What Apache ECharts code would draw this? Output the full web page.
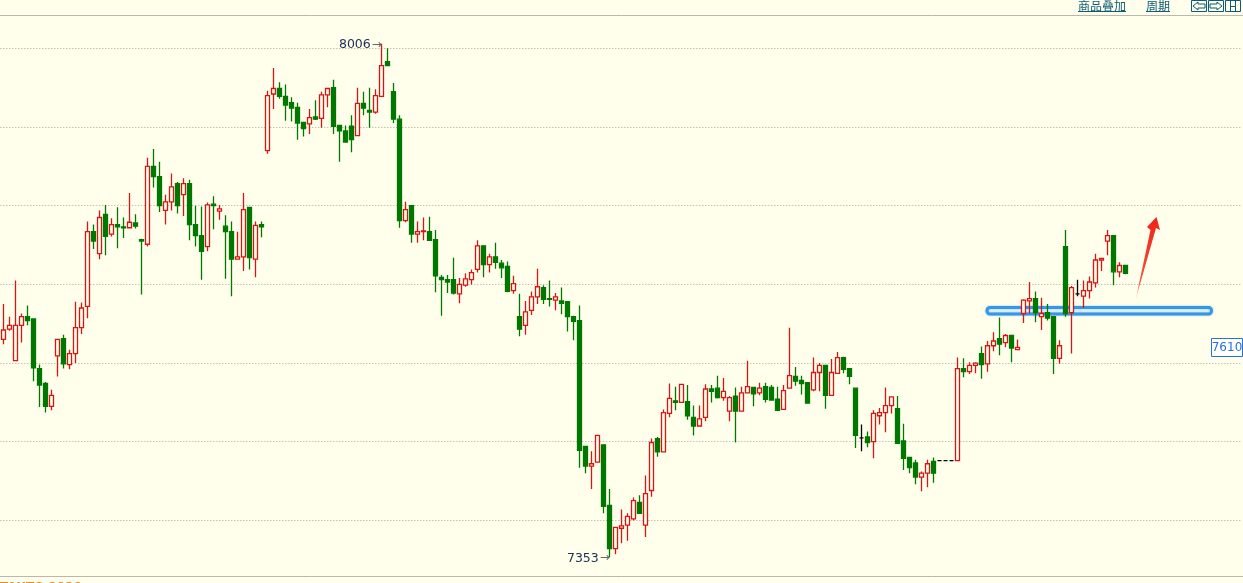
<!DOCTYPE html>
<html>
<head>
<meta charset="utf-8">
<style>
  html, body { margin: 0; padding: 0; background: #ffffeb; }
  #chart { width: 1243px; height: 583px; }
</style>
<script src="https://cdn.jsdelivr.net/npm/echarts@6/dist/echarts.min.js"></script>
</head>
<body>
<div id="chart"></div>
<script>
const opens = [
  7630,7643,7603,7648,7659,7656,7593,7574,7545,7609,
  7631,7598,7612,7645,7672,7767,7739,7789,7764,7776,
  7773,7772,7778,7757,7751,7850,7837,7794,7805,7828,
  7814,7828,7776,7762,7748,7802,7793,7774,7767,7732,
  7735,7798,7732,7776,7870,7942,7949,7939,7931,7925,
  7906,7904,7913,7911,7941,7950,7902,7895,7901,7889,
  7930,7921,7919,7939,7983,7945,7910,7781,7800,7764,
  7767,7767,7757,7709,7706,7706,7688,7699,7706,7719,
  7749,7725,7735,7727,7723,7692,7659,7648,7667,7684,
  7696,7682,7680,7679,7678,7659,7654,7494,7469,7474,
  7496,7419,7364,7390,7394,7402,7423,7394,7438,7504,
  7487,7536,7552,7550,7551,7531,7520,7531,7567,7568,
  7556,7539,7558,7539,7562,7569,7562,7570,7569,7554,
  7541,7568,7583,7578,7575,7566,7588,7597,7559,7587,
  7607,7593,7568,7505,7506,7500,7533,7537,7546,7542,
  7501,7480,7473,7455,7460,7475,7476,7476,7476,7476,
  7593,7589,7597,7612,7599,7622,7631,7626,7635,7617,
  7663,7679,7682,7659,7664,7659,7606,7748,7664,7688,
  7685,7692,7702,7731,7755,7762,7716,7724
]
const closes = [
  7642,7648,7648,7659,7654,7594,7572,7545,7559,7630,
  7599,7612,7645,7670,7767,7755,7785,7761,7776,7773,
  7772,7779,7774,7755,7850,7837,7800,7805,7824,7800,
  7828,7776,7762,7742,7801,7800,7796,7767,7732,7735,
  7795,7734,7775,7773,7940,7949,7939,7928,7924,7905,
  7898,7912,7910,7941,7949,7901,7895,7881,7884,7930,
  7924,7919,7940,7978,7978,7910,7781,7795,7764,7767,
  7768,7756,7711,7706,7703,7689,7700,7707,7715,7749,
  7725,7735,7728,7721,7691,7701,7643,7665,7684,7697,
  7681,7681,7684,7676,7659,7653,7489,7469,7472,7508,
  7418,7364,7391,7393,7405,7425,7409,7434,7499,7487,
  7537,7555,7550,7573,7533,7520,7529,7567,7564,7556,
  7564,7556,7539,7562,7570,7561,7568,7554,7553,7540,
  7565,7584,7577,7574,7549,7588,7597,7559,7588,7607,
  7592,7583,7508,7505,7499,7536,7537,7546,7557,7498,
  7479,7467,7455,7460,7472,7460,7476,7476,7476,7593,
  7589,7597,7600,7598,7622,7628,7624,7635,7619,7620,
  7680,7682,7664,7663,7657,7606,7622,7663,7696,7688,
  7692,7703,7731,7733,7762,7716,7724,7714
]
const lows = [
  7624,7641,7603,7626,7648,7577,7544,7537,7540,7583,
  7593,7592,7600,7637,7657,7745,7732,7737,7761,7746,
  7759,7772,7771,7687,7748,7823,7792,7776,7794,7790,
  7787,7756,7748,7706,7742,7770,7782,7707,7685,7732,
  7717,7719,7709,7760,7866,7923,7936,7908,7907,7884,
  7888,7891,7909,7899,7925,7891,7856,7881,7868,7889,
  7915,7899,7917,7939,7978,7905,7772,7779,7753,7753,
  7756,7756,7690,7660,7689,7687,7676,7697,7700,7715,
  7709,7715,7720,7708,7690,7688,7634,7636,7661,7675,
  7675,7672,7667,7662,7640,7629,7467,7460,7440,7474,
  7409,7353,7357,7371,7374,7400,7409,7379,7430,7481,
  7487,7531,7540,7550,7528,7508,7520,7526,7550,7555,
  7552,7526,7499,7539,7562,7545,7559,7550,7553,7540,
  7541,7568,7571,7560,7549,7564,7564,7542,7559,7587,
  7587,7573,7492,7488,7493,7479,7522,7512,7536,7498,
  7464,7460,7446,7437,7442,7448,7476,7476,7476,7476,
  7582,7586,7587,7580,7589,7615,7610,7620,7601,7617,
  7651,7663,7652,7642,7654,7586,7599,7659,7612,7685,
  7670,7682,7696,7717,7737,7699,7709,7713
]
const highs = [
  7675,7659,7705,7663,7673,7656,7598,7576,7566,7631,
  7636,7617,7678,7677,7780,7776,7794,7801,7784,7798,
  7785,7816,7789,7758,7861,7872,7856,7814,7841,7830,
  7835,7833,7800,7799,7804,7812,7801,7788,7780,7767,
  7816,7798,7780,7780,7946,7975,7957,7954,7938,7931,
  7906,7923,7934,7945,7950,7960,7903,7902,7915,7950,
  7945,7950,7948,8006,8000,7956,7915,7805,7800,7780,
  7785,7786,7769,7712,7712,7734,7708,7714,7719,7756,
  7749,7739,7753,7731,7729,7711,7688,7679,7691,7720,
  7699,7705,7689,7696,7679,7660,7673,7495,7488,7509,
  7496,7440,7391,7414,7409,7429,7432,7457,7504,7506,
  7541,7574,7570,7573,7572,7546,7546,7573,7572,7584,
  7581,7558,7569,7570,7603,7569,7575,7575,7572,7570,
  7572,7645,7595,7584,7575,7607,7600,7597,7605,7614,
  7608,7593,7568,7522,7513,7540,7543,7569,7557,7558,
  7523,7480,7477,7462,7477,7480,7476,7476,7476,7607,
  7606,7601,7601,7621,7628,7639,7658,7637,7635,7630,
  7681,7703,7691,7683,7675,7659,7629,7769,7698,7706,
  7705,7710,7739,7734,7769,7762,7728,7724
]
// days with open == close, drawn black
const flatDays = [143, 156, 157, 158, 179]
const highDay = 63
const lowDay = 101
const lastPrice = '7610'
const toolbarLabels = ['商品叠加', '周期']

const bg = '#ffffeb'
const upColor = '#d81515'
const downColor = '#007800'
const linkColor = '#0b5c7a'
const slots = 207 // room on the right of the last candle

const candles = opens.map((open, ii) => {
  const item = { value: [open, closes[ii], lows[ii], highs[ii]] }
  if (flatDays.includes(ii)) {
    item.itemStyle = { color: '#000', color0: '#000', borderColor: '#000', borderColor0: '#000', borderColorDoji: '#000' }
  }
  return item
})

function extremeLabel(day, value) {
  return {
    coord: [day, value],
    symbol: 'circle',
    symbolSize: 1,
    itemStyle: { color: 'transparent' },
    label: {
      show: true,
      position: 'left',
      distance: 0,
      offset: [1, 1],
      formatter: `{v|${value}}{a|→}`,
      rich: {
        v: { color: '#1c2f55', fontSize: 12.5, fontFamily: 'DejaVu Sans' },
        a: { color: '#666', fontSize: 12, fontFamily: 'DejaVu Sans', padding: [0, 0, 0, 1] },
      },
    },
  }
}

function iconBox(x, w, children) {
  return {
    type: 'group',
    children: [
      { type: 'rect', shape: { x, y: 0.5, width: w, height: 11 }, style: { fill: 'none', stroke: linkColor, lineWidth: 1 } },
      ...children,
    ],
  }
}

const chart = echarts.init(document.getElementById('chart'))
chart.setOption({
  animation: false,
  backgroundColor: bg,
  // top and height place 8000 at y=48 and 100 points at 78.67px
  grid: { left: 0.33, width: 6 * slots, top: -30.3, height: 629.36, outerBoundsMode: 'none' },
  xAxis: {
    type: 'category',
    data: Array.from({ length: slots }, (_, ii) => String(ii)),
    axisLine: { show: false },
    axisTick: { show: false },
    axisLabel: { show: false },
    splitLine: { show: false },
  },
  yAxis: {
    type: 'value',
    min: 7300,
    max: 8100,
    interval: 100,
    axisLine: { show: false },
    axisTick: { show: false },
    axisLabel: { show: false },
    splitLine: { lineStyle: { color: '#a8a898', type: [1, 2], width: 1 } },
  },
  series: [{
    type: 'candlestick',
    data: candles,
    barWidth: 5,
    itemStyle: { color: bg, color0: downColor, borderColor: upColor, borderColor0: downColor, borderWidth: 1.3 },
    markPoint: {
      silent: true,
      data: [extremeLabel(highDay, highs[highDay]), extremeLabel(lowDay, lows[lowDay])],
    },
  }],
  graphic: [
    // frame lines
    { type: 'line', shape: { x1: 0, y1: 15.5, x2: 1243, y2: 15.5 }, style: { stroke: '#b8b8b0', lineWidth: 1 } },
    { type: 'line', shape: { x1: 0, y1: 576.5, x2: 1243, y2: 576.5 }, style: { stroke: '#b8b8b0', lineWidth: 1 } },
    // toolbar
    { type: 'text', x: 1078, y: 0, style: { text: toolbarLabels[0], fill: linkColor, font: '12px "Noto Sans CJK SC"' } },
    { type: 'line', shape: { x1: 1078, y1: 11.5, x2: 1126, y2: 11.5 }, style: { stroke: linkColor, lineWidth: 1 } },
    { type: 'text', x: 1146, y: 0, style: { text: toolbarLabels[1], fill: linkColor, font: '12px "Noto Sans CJK SC"' } },
    { type: 'line', shape: { x1: 1146, y1: 11.5, x2: 1170, y2: 11.5 }, style: { stroke: linkColor, lineWidth: 1 } },
    iconBox(1191.5, 15, [{ type: 'polygon', shape: { points: [[1193, 6], [1198, 2], [1198, 4], [1205, 4], [1205, 8], [1198, 8], [1198, 10]] }, style: { fill: 'none', stroke: linkColor, lineWidth: 1 } }]),
    iconBox(1208.5, 15, [{ type: 'polygon', shape: { points: [[1222, 6], [1217, 2], [1217, 4], [1210, 4], [1210, 8], [1217, 8], [1217, 10]] }, style: { fill: 'none', stroke: linkColor, lineWidth: 1 } }]),
    iconBox(1225.5, 15, [
      { type: 'line', shape: { x1: 1230.5, y1: 0.5, x2: 1230.5, y2: 11.5 }, style: { stroke: linkColor, lineWidth: 1 } },
      { type: 'line', shape: { x1: 1235.5, y1: 0.5, x2: 1235.5, y2: 11.5 }, style: { stroke: linkColor, lineWidth: 1 } },
      { type: 'line', shape: { x1: 1230.5, y1: 6.5, x2: 1235.5, y2: 6.5 }, style: { stroke: linkColor, lineWidth: 1 } },
    ]),
    // last price box
    { type: 'rect', shape: { x: 1211.5, y: 338.5, width: 31, height: 18 }, style: { fill: '#ffffff', stroke: '#2a72d0', lineWidth: 1 } },
    { type: 'text', x: 1227, y: 348, style: { text: lastPrice, fill: '#2a72d0', font: '12px "DejaVu Sans"', align: 'center', verticalAlign: 'middle' } },
    // hand drawn support band
    { type: 'rect', shape: { x: 987, y: 307.5, width: 224.5, height: 6.5, r: 3 }, style: { fill: 'rgba(255,255,255,0.7)', stroke: '#3597e6', lineWidth: 3, shadowBlur: 2, shadowColor: 'rgba(58,157,232,0.6)' } },
    // hand drawn arrow
    {
      type: 'polygon',
      shape: { points: [[1135.5, 300], [1150.5, 230], [1147, 227], [1156.5, 217], [1160, 230], [1156, 228]] },
      style: {
        fill: new echarts.graphic.LinearGradient(0, 1, 0, 0, [
          { offset: 0, color: 'rgba(240,120,90,0.3)' },
          { offset: 0.2, color: '#f0553a' },
          { offset: 1, color: '#f5201a' },
        ]),
      },
    },
    // status line at the window edge, mostly cropped
    { type: 'text', x: 0, y: 581.6, style: { text: 'TAUTO 2020', fill: '#f08a20', font: 'bold 12px "DejaVu Sans"' } },
  ],
})
</script>
</body>
</html>
